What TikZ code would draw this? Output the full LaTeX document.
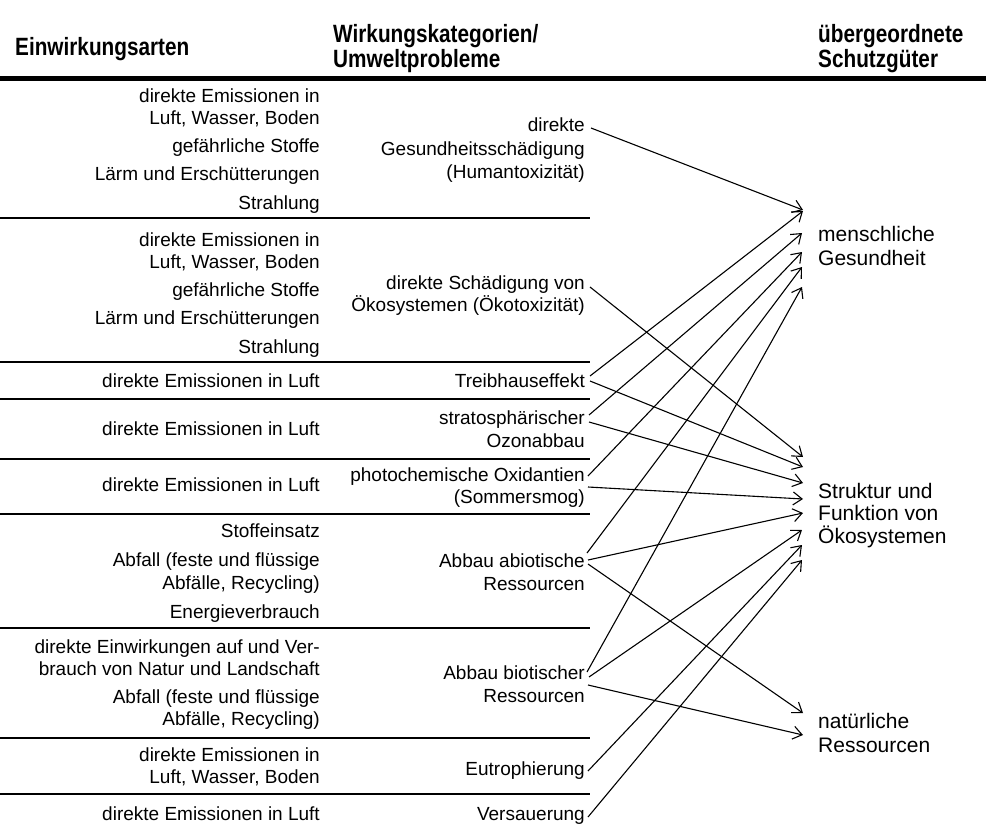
\documentclass[tikz,border=0pt]{standalone}
\usepackage{fontspec}
\setmainfont{Liberation Sans}
\newfontfamily\hdfamily[FakeStretch=0.83]{Liberation Sans}
\usetikzlibrary{arrows.meta}
\tikzset{
  lt/.style={anchor=base east, font=\fontsize{19}{22}\selectfont, inner sep=0pt},
  hd/.style={anchor=base west, font=\hdfamily\fontsize{25}{28}\selectfont\bfseries, inner sep=0pt},
  rt/.style={anchor=base west, font=\fontsize{21}{24}\selectfont, inner sep=0pt},
  link/.style={line width=1.1pt, -{Straight Barb[length=9pt,width=13pt]}},
  thinrule/.style={line width=1.2pt},
  thickrule/.style={line width=2.6pt},
  toprule/.style={line width=5pt}
}
\begin{document}
\begin{tikzpicture}[x=1pt,y=-1pt]
\path[use as bounding box] (0,0) rectangle (986,830);
% header
\node[hd] (h1) at (15,55) {Einwirkungsarten};
\node[hd] (h2a) at (333,42) {Wirkungskategorien/};
\node[hd] (h2b) at (333,67) {Umweltprobleme};
\node[hd] (h3a) at (818,42) {übergeordnete};
\node[hd] (h3b) at (818,67) {Schutzgüter};
\draw[toprule] (0,78) -- (986,78);
% rules
\draw[thinrule] (0,218) -- (590,218);
\draw[thickrule] (0,362) -- (590,362);
\draw[thickrule] (0,399) -- (590,399);
\draw[thinrule] (0,459) -- (590,459);
\draw[thinrule] (0,514) -- (590,514);
\draw[thickrule] (0,628) -- (590,628);
\draw[thickrule] (0,738) -- (590,738);
\draw[thinrule] (0,794) -- (590,794);
% left column
\node[lt] (a1) at (320,102) {direkte Emissionen in};
\node[lt] (a2) at (320,124) {Luft, Wasser, Boden};
\node[lt] (a3) at (320,152) {gefährliche Stoffe};
\node[lt] (a4) at (320,180) {Lärm und Erschütterungen};
\node[lt] (a5) at (320,209) {Strahlung};
\node[lt] (b1) at (320,246) {direkte Emissionen in};
\node[lt] (b2) at (320,268) {Luft, Wasser, Boden};
\node[lt] (b3) at (320,296) {gefährliche Stoffe};
\node[lt] (b4) at (320,324) {Lärm und Erschütterungen};
\node[lt] (b5) at (320,353) {Strahlung};
\node[lt] (c1) at (320,387) {direkte Emissionen in Luft};
\node[lt] (d1) at (320,435) {direkte Emissionen in Luft};
\node[lt] (e1) at (320,491) {direkte Emissionen in Luft};
\node[lt] (f1) at (320,537) {Stoffeinsatz};
\node[lt] (f2) at (320,566) {Abfall (feste und flüssige};
\node[lt] (f3) at (320,589) {Abfälle, Recycling)};
\node[lt] (f4) at (320,618) {Energieverbrauch};
\node[lt] (g1) at (320,653) {direkte Einwirkungen auf und Ver-};
\node[lt] (g2) at (320,675) {brauch von Natur und Landschaft};
\node[lt] (g3) at (320,703) {Abfall (feste und flüssige};
\node[lt] (g4) at (320,725) {Abfälle, Recycling)};
\node[lt] (k1) at (320,761) {direkte Emissionen in};
\node[lt] (k2) at (320,783) {Luft, Wasser, Boden};
\node[lt] (l1) at (320,820) {direkte Emissionen in Luft};
% middle column
\node[lt] (m1a) at (585,131) {direkte};
\node[lt] (m1b) at (585,155) {Gesundheitsschädigung};
\node[lt] (m1c) at (585,178) {(Humantoxizität)};
\node[lt] (m2a) at (585,289) {direkte Schädigung von};
\node[lt] (m2b) at (585,311) {Ökosystemen (Ökotoxizität)};
\node[lt] (m3) at (585,387) {Treibhauseffekt};
\node[lt] (m4a) at (585,424) {stratosphärischer};
\node[lt] (m4b) at (585,447) {Ozonabbau};
\node[lt] (m5a) at (585,481) {photochemische Oxidantien};
\node[lt] (m5b) at (585,503) {(Sommersmog)};
\node[lt] (m6a) at (585,567) {Abbau abiotische};
\node[lt] (m6b) at (585,590) {Ressourcen};
\node[lt] (m7a) at (585,679) {Abbau biotischer};
\node[lt] (m7b) at (585,702) {Ressourcen};
\node[lt] (m8) at (585,775) {Eutrophierung};
\node[lt] (m9) at (585,820) {Versauerung};
% right column
\node[rt] (r1a) at (818,241) {menschliche};
\node[rt] (r1b) at (818,265) {Gesundheit};
\node[rt] (r2a) at (818,498) {Struktur und};
\node[rt] (r2b) at (818,520) {Funktion von};
\node[rt] (r2c) at (818,543) {Ökosystemen};
\node[rt] (r3a) at (818,728) {natürliche};
\node[rt] (r3b) at (818,752) {Ressourcen};
% start points
\coordinate (s1) at (591,128);
\coordinate (s2) at (590,287);
\coordinate (s3u) at (590,376);
\coordinate (s3d) at (590,381);
\coordinate (s4u) at (589,415);
\coordinate (s4d) at (589,422);
\coordinate (s5u) at (588,476);
\coordinate (s5d) at (588,487);
\coordinate (s6u) at (587,553);
\coordinate (s6m) at (588,560);
\coordinate (s6d) at (588,564);
\coordinate (s7u) at (587,672);
\coordinate (s7m) at (589,677);
\coordinate (s7d) at (588,685);
\coordinate (s8) at (588,771);
\coordinate (s9) at (588,817);
% end points
\coordinate (t1a) at (803,210);
\coordinate (t1b) at (803,211);
\coordinate (t1c) at (802,233);
\coordinate (t1d) at (802,252);
\coordinate (t1e) at (802,267);
\coordinate (t1f) at (802,287);
\coordinate (t2a) at (803,457);
\coordinate (t2b) at (803,467);
\coordinate (t2c) at (803,483);
\coordinate (t2d) at (803,499);
\coordinate (t2e) at (803,513);
\coordinate (t2f) at (802,530);
\coordinate (t2g) at (802,545);
\coordinate (t2h) at (802,560);
\coordinate (t3a) at (803,713);
\coordinate (t3b) at (803,735);
% links
\draw[link] (s1) -- (t1a);
\draw[link] (s2) -- (t2a);
\draw[link] (s3u) -- (t1b);
\draw[link] (s3d) -- (t2b);
\draw[link] (s4u) -- (t1c);
\draw[link] (s4d) -- (t2c);
\draw[link] (s5u) -- (t1d);
\draw[link] (s5d) -- (t2d);
\draw[link] (s6u) -- (t1e);
\draw[link] (s6m) -- (t2e);
\draw[link] (s6d) -- (t3a);
\draw[link] (s7u) -- (t1f);
\draw[link] (s7m) -- (t2f);
\draw[link] (s7d) -- (t3b);
\draw[link] (s8) -- (t2g);
\draw[link] (s9) -- (t2h);
\end{tikzpicture}
\end{document}
